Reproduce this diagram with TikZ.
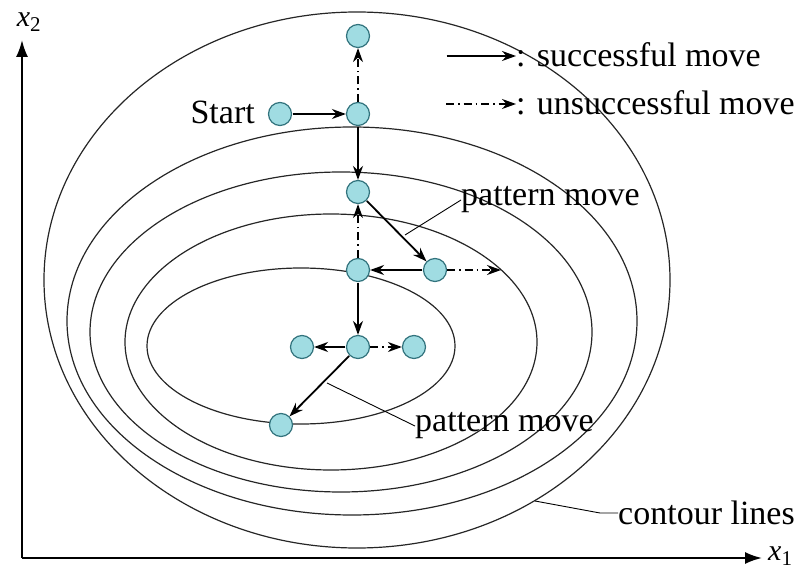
\documentclass[tikz,border=0pt]{standalone}
\usepackage{fontspec}
\setmainfont{Liberation Serif}
\usetikzlibrary{arrows.meta}
\definecolor{nodefill}{RGB}{160,220,226}
\definecolor{nodeline}{RGB}{50,115,125}
\begin{document}
\begin{tikzpicture}[x=1pt,y=-1pt,
  pt/.style={circle,minimum size=23pt,inner sep=0pt,fill=nodefill,draw=nodeline,line width=1.2pt},
  contour/.style={line width=1.2pt,draw=black!85},
  good/.style={line width=1.8pt,-{Stealth[length=14pt,width=10pt]},shorten <=0.5pt},
  bad/.style={line width=1.6pt,dash pattern=on 8pt off 4pt on 1.5pt off 4pt,-{Stealth[length=14pt,width=10pt]}},
  leader/.style={line width=0.9pt},
  lbl/.style={font=\fontsize{34}{37}\selectfont,inner sep=0pt},
  axis/.style={line width=2pt,-{Latex[length=17pt,width=12pt]}}]
\useasboundingbox (0,0) rectangle (796,575);
% contour lines
\draw[contour] (357,280) ellipse [x radius=313pt, y radius=268pt];
\draw[contour] (352,321) ellipse [x radius=285pt, y radius=194pt];
\draw[contour] (341,332) ellipse [x radius=251pt, y radius=160pt];
\draw[contour] (331,342) ellipse [x radius=206pt, y radius=128pt];
\draw[contour] (301,346) ellipse [x radius=154pt, y radius=78pt];
% axes
\coordinate (o) at (22,558);
\coordinate (ytip) at (22,40);
\coordinate (xtip) at (762,558);
\draw[axis] (o) -- (ytip);
\draw[axis] (o) -- (xtip);
\node[font=\fontsize{30}{32}\selectfont,inner sep=0pt] (xtwo) at (29,22) {\textit{x}\textsubscript{2}};
\node[font=\fontsize{30}{32}\selectfont,inner sep=0pt,anchor=west] (xone) at (768,556) {\textit{x}\textsubscript{1}};
% points
\node[pt] (top) at (358,36) {};
\node[pt] (s) at (280,114) {};
\node[pt] (n1) at (358,114) {};
\node[pt] (n2) at (358,192) {};
\node[pt] (n3) at (358,270) {};
\node[pt] (n4) at (435,270) {};
\node[pt] (n5) at (358,347) {};
\node[pt] (n6) at (302,347) {};
\node[pt] (n7) at (414,347) {};
\node[pt] (n8) at (281,425) {};
\coordinate (e4) at (501,270);
% moves
\draw[good] (s) -- (n1);
\draw[bad] (n1) -- (top);
\draw[good] (n1) -- (n2);
\draw[good] (n2) -- (n4);
\draw[bad] (n3) -- (n2);
\draw[good] (n4) -- (n3);
\draw[bad] (n4) -- (e4);
\draw[good] (n3) -- (n5);
\draw[good] (n5) -- (n6);
\draw[bad] (n5) -- (n7);
\draw[good] (n5) -- (n8);
% labels
\node[lbl,anchor=east] (start) at (255,112) {Start};
\coordinate (la) at (446,56);
\coordinate (lb) at (516,56);
\draw[good] (la) -- (lb);
\node[lbl,anchor=west] (ls) at (516,55) {: successful move};
\coordinate (lc) at (446,104);
\coordinate (ld) at (516,104);
\draw[bad] (lc) -- (ld);
\node[lbl,anchor=west] (lu) at (516,103) {: unsuccessful move};
\node[lbl,anchor=west] (pm1) at (461,200) {pattern move};
\coordinate (pm1p) at (405,235);
\draw[leader] (pm1.west) -- (pm1p);
\node[lbl,anchor=west] (pm2) at (415,426) {pattern move};
\coordinate (pm2p) at (327,383);
\draw[leader] (pm2.west) -- (pm2p);
\node[lbl,anchor=west] (cl) at (618,513) {contour lines};
\coordinate (clk) at (600,513);
\coordinate (clp) at (535,501);
\draw[leader] (cl.west) -- (clk) -- (clp);
\end{tikzpicture}
\end{document}
